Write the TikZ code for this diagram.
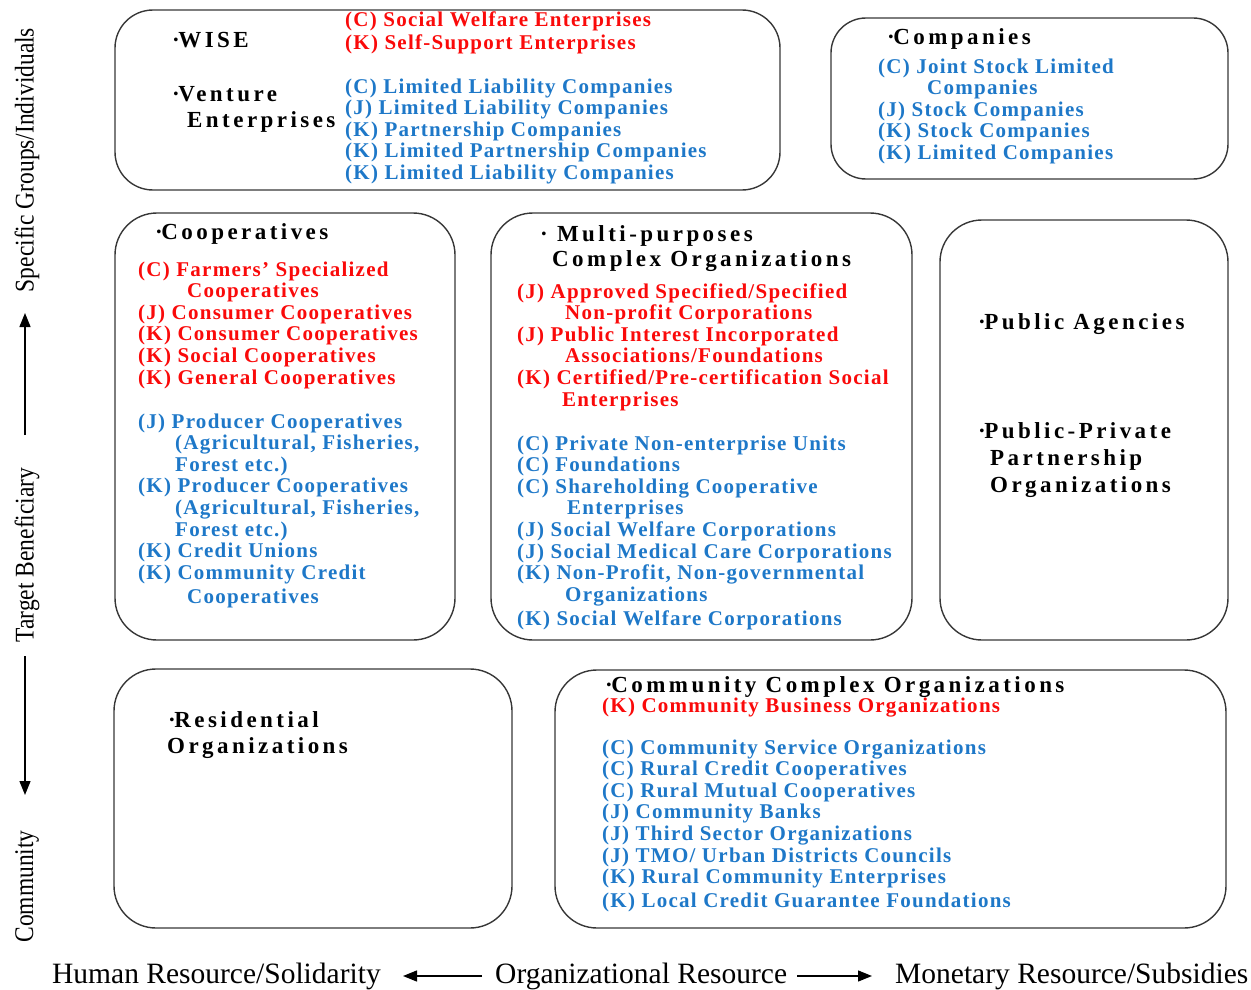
\documentclass[tikz,border=0pt]{standalone}
\usepackage{fontspec}
\usepackage{graphicx}
\setmainfont{Liberation Serif}
\newfontfamily\itemfont[LetterSpace=6,UprightFont=* Bold,BoldFont=* Bold]{Liberation Serif}
\newfontfamily\headfont[LetterSpace=15,UprightFont=* Bold,BoldFont=* Bold]{Liberation Serif}
\usetikzlibrary{arrows.meta}
\definecolor{itemblue}{RGB}{30,120,200}
\definecolor{itemred}{RGB}{250,10,10}
\definecolor{boxline}{RGB}{55,55,55}
\newcommand{\hdot}{·\kern-1.5pt}
\tikzset{
  box/.style={draw=boxline, line width=1.4pt, rounded corners=42pt},
  item/.style={anchor=base west, inner sep=0pt, font=\itemfont\fontsize{21}{21.6}\selectfont},
  redit/.style={item, text=itemred},
  blueit/.style={item, text=itemblue},
  head/.style={anchor=base west, inner sep=0pt, text=black, font=\headfont\fontsize{23}{26}\selectfont},
  axislabel/.style={inner sep=0pt, rotate=90, font=\fontsize{27}{27}\selectfont},
  bottomlabel/.style={anchor=base west, inner sep=0pt, font=\fontsize{29.5}{29.5}\selectfont},
  arr/.style={line width=1.3pt, -{Triangle[length=14pt,width=11pt]}},
}
\begin{document}
\begin{tikzpicture}[x=1pt,y=-1pt]
\useasboundingbox (0,0) rectangle (1251,990);

% ---------- boxes ----------
\draw[box, rounded corners=38pt] (115,10) rectangle (780,190);
\draw[box, rounded corners=35pt] (831,18) rectangle (1228,179);
\draw[box] (115,213) rectangle (455,640);
\draw[box] (491,213) rectangle (912,640);
\draw[box] (940,220) rectangle (1228,640);
\draw[box] (114,669) rectangle (512,928);
\draw[box] (555,670) rectangle (1226,928);

% ---------- box 1: WISE / Venture ----------
\node[head] (wise) at (172,48) {\hdot WISE};
\node[head] (venture) at (172,102) {\hdot Venture};
\node[head] (ventureb) at (187,128) {Enterprises};
\node[redit] (wiseR0) at (345,27) {(C) Social Welfare Enterprises};
\node[redit] (wiseR1) at (345,50) {(K) Self-Support Enterprises};
\foreach \t [count=\i from 0] in {{(C) Limited Liability Companies},{(J) Limited Liability Companies},{(K) Partnership Companies},{(K) Limited Partnership Companies},{(K) Limited Liability Companies}}
  \node[blueit] (ventB\i) at (345,{93+21.6*\i}) {\t};

% ---------- box 2: Companies ----------
\node[head] (companies) at (887,45) {\hdot Companies};
\foreach \t [count=\i from 0] in {{(C) Joint Stock Limited},{\hspace*{49pt}Companies},{(J) Stock Companies},{(K) Stock Companies},{(K) Limited Companies}}
  \node[blueit] (compB\i) at (878,{73.3+21.5*\i}) {\t};

% ---------- box 3: Cooperatives ----------
\node[head] (coop) at (155,239) {\hdot Cooperatives};
\foreach \t [count=\i from 0] in {{(C) Farmers’ Specialized},{\hspace*{49pt}Cooperatives},{(J) Consumer Cooperatives},{(K) Consumer Cooperatives},{(K) Social Cooperatives},{(K) General Cooperatives}}
  \node[redit] (coopR\i) at (138,{276+21.6*\i}) {\t};
\foreach \t [count=\i from 0] in {{(J) Producer Cooperatives},{\hspace*{37pt}(Agricultural, Fisheries,},{\hspace*{37pt}Forest etc.)},{(K) Producer Cooperatives},{\hspace*{37pt}(Agricultural, Fisheries,},{\hspace*{37pt}Forest etc.)},{(K) Credit Unions},{(K) Community Credit}}
  \node[blueit] (coopB\i) at (138,{428+21.6*\i}) {\t};
\node[blueit] (coopB8) at (138,603) {\hspace*{49pt}Cooperatives};

% ---------- box 4: Multi-purposes ----------
\node[head] (multi) at (540,241.7) {· Multi-purposes};
\node[head] (multib) at (552,266.7) {Complex Organizations};
\foreach \t [count=\i from 0] in {{(J) Approved Specified/Specified},{\hspace*{48pt}Non-profit Corporations},{(J) Public Interest Incorporated},{\hspace*{48pt}Associations/Foundations},{(K) Certified/Pre-certification Social},{\hspace*{45pt}Enterprises}}
  \node[redit] (multiR\i) at (517,{298+21.6*\i}) {\t};
\foreach \t [count=\i from 0] in {{(C) Private Non-enterprise Units},{(C) Foundations},{(C) Shareholding Cooperative},{\hspace*{50pt}Enterprises},{(J) Social Welfare Corporations},{(J) Social Medical Care Corporations},{(K) Non-Profit, Non-governmental},{\hspace*{48pt}Organizations}}
  \node[blueit] (multiB\i) at (517,{450+21.6*\i}) {\t};
\node[blueit] (multiB8) at (517,625.5) {(K) Social Welfare Corporations};

% ---------- box 5: Public ----------
\node[head] (pubag) at (978,329.5) {\hdot Public Agencies};
\node[head] (ppp) at (978,438.5) {\hdot Public-Private};
\node[head] (pppb) at (990,465.5) {Partnership};
\node[head] (pppc) at (990,492.5) {Organizations};

% ---------- box 6: Residential ----------
\node[head] (resid) at (168,727) {\hdot Residential};
\node[head] (residb) at (167,753) {Organizations};

% ---------- box 7: Community Complex ----------
\node[head] (ccomp) at (605,692) {\hdot Community Complex Organizations};
\node[redit] (ccompR) at (602,712) {(K) Community Business Organizations};
\foreach \t [count=\i from 0] in {{(C) Community Service Organizations},{(C) Rural Credit Cooperatives},{(C) Rural Mutual Cooperatives},{(J) Community Banks},{(J) Third Sector Organizations},{(J) TMO/ Urban Districts Councils},{(K) Rural Community Enterprises}}
  \node[blueit] (ccompB\i) at (602,{754+21.6*\i}) {\t};
\node[blueit] (ccompB7) at (602,907) {(K) Local Credit Guarantee Foundations};

% ---------- left axis ----------
\node[axislabel] (specific) at (27,160) {\scalebox{0.87}[1]{Specific Groups/Individuals}};
\node[axislabel] (target) at (27,555) {\scalebox{0.87}[1]{Target Beneficiary}};
\node[axislabel] (community) at (27,886.5) {\scalebox{0.87}[1]{Community}};
\coordinate (upTail) at (25,435);
\coordinate (upTip) at (25,313);
\coordinate (downTail) at (25,656);
\coordinate (downTip) at (25,795);
\draw[arr] (upTail) -- (upTip);
\draw[arr] (downTail) -- (downTip);

% ---------- bottom axis ----------
\node[bottomlabel] (human) at (52,983.5) {Human Resource/Solidarity};
\node[bottomlabel] (organ) at (495,983.5) {Organizational Resource};
\node[bottomlabel] (money) at (895,983.5) {Monetary Resource/Subsidies};
\coordinate (leftTail) at (482,976);
\coordinate (leftTip) at (403,976);
\coordinate (rightTail) at (797,976);
\coordinate (rightTip) at (872,976);
\draw[arr] (leftTail) -- (leftTip);
\draw[arr] (rightTail) -- (rightTip);
\end{tikzpicture}
\end{document}
